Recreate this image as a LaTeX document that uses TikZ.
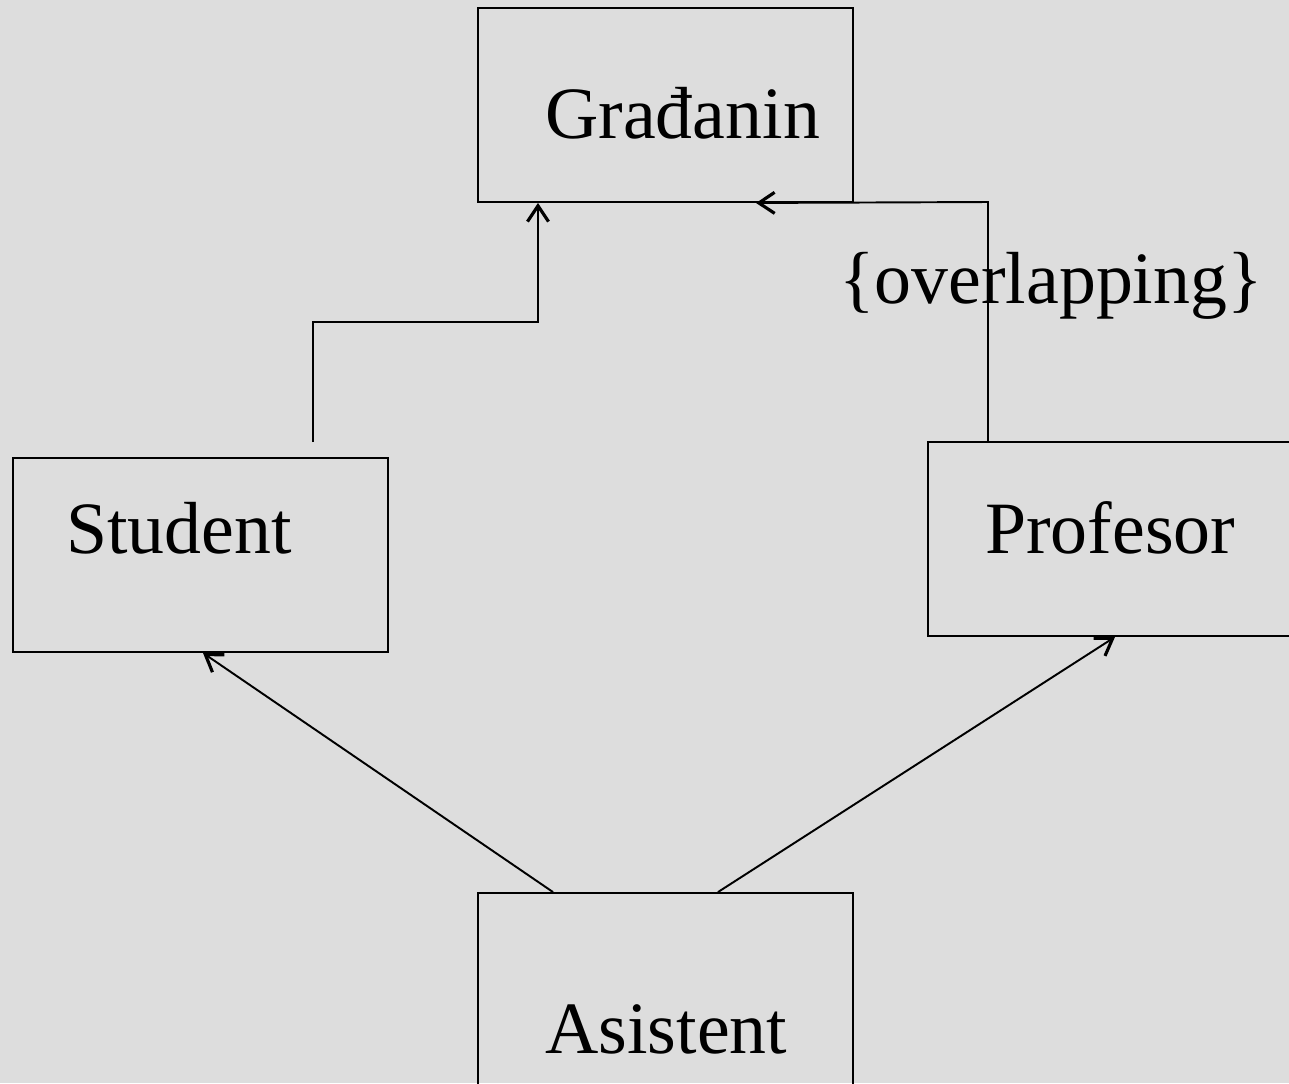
\documentclass[tikz,border=0pt]{standalone}
\usepackage{fontspec}
\setmainfont{Liberation Serif}
\usetikzlibrary{arrows.meta}
\definecolor{bggray}{RGB}{221,221,221}
\tikzset{
  klasa/.style={draw, rectangle, line width=1.1pt, minimum width=7.5cm, minimum height=3.88cm, inner sep=0pt},
  ime/.style={anchor=base west, inner sep=0pt, font=\fontsize{42}{50}\selectfont},
  nasl/.style={line width=1.1pt, -{Straight Barb[length=9pt, width=12pt, line width=1.8pt]}}
}

\begin{document}
\begin{tikzpicture}[x=0.02cm, y=-0.02cm]
\fill[bggray] (0,0) rectangle (1289,1083);
\clip (0,0) rectangle (1289,1083);
\node[klasa] (gradjanin) at (665.5,105) {};
\node[klasa] (student) at (200.5,555) {};
\node[klasa] (profesor) at (1115.5,539) {};
\node[klasa] (asistent) at (665.5,990) {};
\node[ime] (tG) at (545,138) {Građanin};
\node[ime] (tS) at (66,553) {Student};
\node[ime] (tP) at (985,553) {Profesor};
\node[ime] (tA) at (545,1053) {Asistent};
\node[ime] (ovl) at (839,303) {\{overlapping\}};
\coordinate (stvrh) at (313,442); % line starts above the box
\draw[nasl] (stvrh) |- (538,322) -- (gradjanin.south -| 538,0);
\draw[nasl] (profesor.north -| 988,0) -- (988,202) -- (gradjanin.south -| 756,0);
\draw[nasl] (asistent.north -| 553,0) -- (student.south -| 203,0);
\draw[nasl] (asistent.north -| 718,0) -- (profesor.south -| 1115,0);
\end{tikzpicture}
\end{document}
